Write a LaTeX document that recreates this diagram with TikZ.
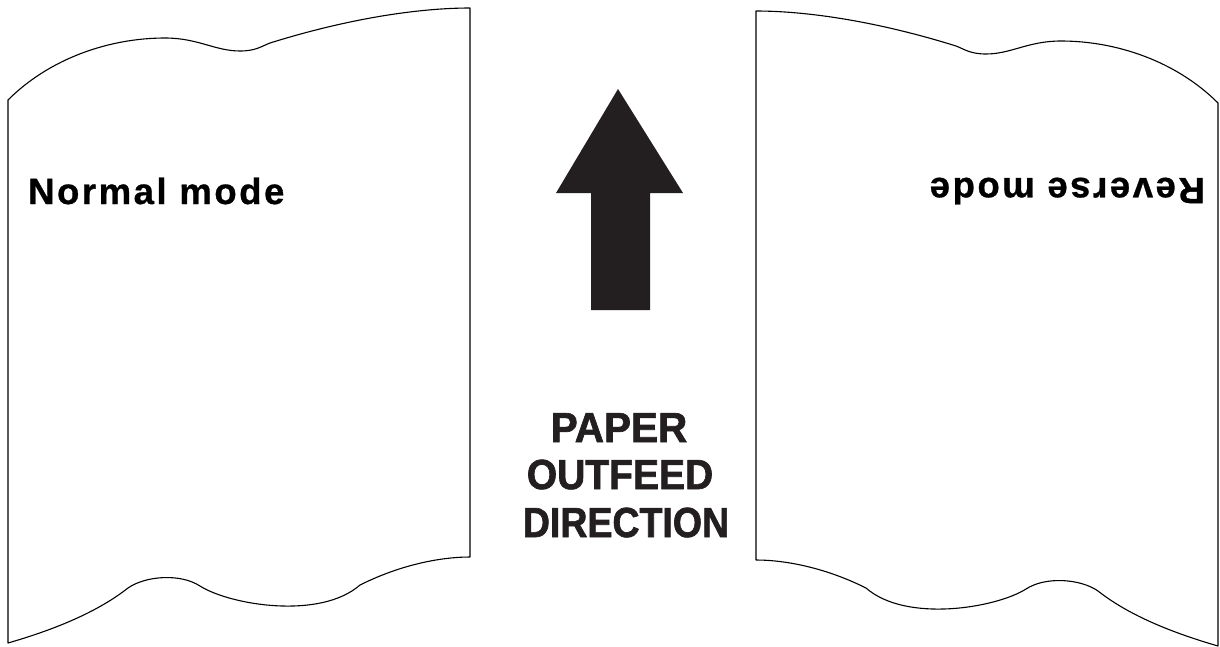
\documentclass[tikz,border=0pt]{standalone}
\usepackage{fontspec}
\setmainfont{Liberation Sans}
\newfontfamily\spacedfont{Liberation Sans}[LetterSpace=7,FakeBold=0.8]
\newfontfamily\heavyfont{Liberation Sans}[FakeBold=1.6]
\definecolor{ink}{HTML}{231F20}
\begin{document}
\begin{tikzpicture}[x=1pt,y=-1pt,
  sheet/.style={draw=black,line width=1.1pt,line join=round,fill=white},
  modelabel/.style={inner sep=0pt,font=\spacedfont\bfseries\fontsize{36.5}{40}\selectfont,text=black},
  dirlabel/.style={inner sep=0pt,anchor=base,font=\heavyfont\bfseries\fontsize{37.5}{40}\selectfont,text=ink}]
\useasboundingbox (0,0) rectangle (1220,646);
\fill[white] (0,0) rectangle (1220,646);
% left sheet
\path[sheet] (8,100)
  .. controls (50,58) and (110,38) .. (165,38)
  .. controls (198,38) and (215,51) .. (240,51)
  .. controls (256,51) and (262,46) .. (270,43)
  .. controls (350,18) and (420,8) .. (470,8)
  -- (470,557)
  .. controls (440,557) and (400,565) .. (360,585)
  .. controls (320,620) and (230,605) .. (200,586)
  .. controls (180,573) and (145,576) .. (128,588)
  .. controls (100,610) and (60,628) .. (8,643)
  -- cycle;
% right sheet (mirror image)
\begin{scope}[xshift=1226pt,xscale=-1,yshift=-3pt]
\path[sheet] (8,100)
  .. controls (50,58) and (110,38) .. (165,38)
  .. controls (198,38) and (215,51) .. (240,51)
  .. controls (256,51) and (262,46) .. (270,43)
  .. controls (350,18) and (420,8) .. (470,8)
  -- (470,557)
  .. controls (440,557) and (400,565) .. (360,585)
  .. controls (320,620) and (230,605) .. (200,586)
  .. controls (180,573) and (145,576) .. (128,588)
  .. controls (100,610) and (60,628) .. (8,643)
  -- cycle;
\end{scope}
% arrow
\fill[ink] (618,89) -- (683,193) -- (650,193) -- (650,310) -- (591,310) -- (591,193) -- (556,193) -- cycle;
% labels
\node[modelabel,anchor=base west] (normal) at (28,204) {Normal mode};
\node[modelabel,anchor=base west,rotate=180] (reverse) at (1205,178) {Reverse mode};
\node[dirlabel] (l1) at (619,442) {\scalebox{1.08}[1.12]{PAPER}};
\node[dirlabel] (l2) at (620,489) {\scalebox{1.04}[1.12]{OUTFEED}};
\node[dirlabel] (l3) at (626,537) {\scalebox{1}[1.12]{DIRECTION}};
\end{tikzpicture}
\end{document}
